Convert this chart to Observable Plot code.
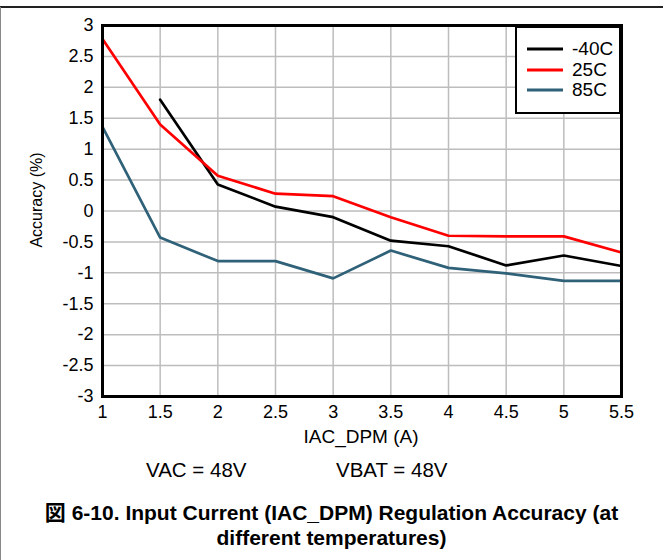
<!DOCTYPE html>
<html>
<head>
<meta charset="utf-8">
<script src="https://cdn.jsdelivr.net/npm/d3@7"></script>
<script src="https://cdn.jsdelivr.net/npm/@observablehq/plot@0.6"></script>
<style>
  body { margin: 0; background: #fff; font-family: "Liberation Sans", Arial, "Noto Sans CJK JP", sans-serif; }
  #wrap { position: relative; width: 663px; height: 560px; background: #fff; overflow: hidden; }
  .abs { position: absolute; white-space: nowrap; color: #000; }
</style>
</head>
<body>
<div id="wrap"></div>
<script>
// ---- data ----
const currents = [1, 1.5, 2, 2.5, 3, 3.5, 4, 4.5, 5, 5.5];
const seriesNames = ["-40C", "25C", "85C"];
const seriesColors = ["#000000", "#ff0000", "#2f6178"];
const accM40 = [null, 1.80, 0.43, 0.07, -0.10, -0.48, -0.57, -0.88, -0.72, -0.89];
const acc25  = [2.78, 1.40, 0.57, 0.28, 0.24, -0.10, -0.40, -0.41, -0.41, -0.67];
const acc85  = [1.36, -0.43, -0.81, -0.81, -1.09, -0.64, -0.92, -1.01, -1.13, -1.13];
const xTicks = [1, 1.5, 2, 2.5, 3, 3.5, 4, 4.5, 5, 5.5];
const yTicks = [-3, -2.5, -2, -1.5, -1, -0.5, 0, 0.5, 1, 1.5, 2, 2.5, 3];
const xLabel = "IAC_DPM (A)";
const yLabel = "Accuracy (%)";
const conditions = ["VAC = 48V", "VBAT = 48V"];
const captionLines = ["図 6-10. Input Current (IAC_DPM) Regulation Accuracy (at", "different temperatures)"];

(function () {
const seriesValues = [accM40, acc25, acc85];
const rows = [];
seriesNames.forEach((name, s) => {
  currents.forEach((c, i) => {
    const v = seriesValues[s][i];
    if (v !== null) rows.push({series: name, x: c, y: v});
  });
});

const wrap = document.getElementById("wrap");

// page borders
const topLine = document.createElement("div");
topLine.style.cssText = "position:absolute;left:0;top:6px;width:663px;height:2px;background:#222;";
wrap.appendChild(topLine);
const leftLine = document.createElement("div");
leftLine.style.cssText = "position:absolute;left:0;top:7px;width:1px;height:553px;background:#888;";
wrap.appendChild(leftLine);

const chart = Plot.plot({
  width: 663,
  height: 450,
  marginTop: 25,
  marginLeft: 102,
  marginRight: 42,
  marginBottom: 54,
  style: {fontSize: "18px", fontFamily: "'Liberation Sans', Arial, sans-serif", background: "transparent", color: "#000"},
  x: {domain: [1, 5.5], ticks: xTicks, label: null},
  y: {domain: [-3, 3], ticks: yTicks, label: null},
  color: {domain: seriesNames, range: seriesColors},
  marks: [
    Plot.gridX(xTicks, {stroke: "#bdbdbd", strokeOpacity: 1, strokeWidth: 1.5}),
    Plot.gridY(yTicks, {stroke: "#bdbdbd", strokeOpacity: 1, strokeWidth: 1.5}),
    Plot.line(rows, {x: "x", y: "y", z: "series", stroke: "series", strokeWidth: 2.7, strokeLinejoin: "miter"}),
    Plot.axisX(xTicks, {tickSize: 0, tickPadding: 9, tickFormat: d => String(d), fontSize: 18, label: null}),
    Plot.axisY(yTicks, {tickSize: 0, tickPadding: 9, tickFormat: d => String(d), fontSize: 18, label: null}),
    Plot.frame({stroke: "#000", strokeWidth: 3})
  ]
});
chart.style.position = "absolute";
chart.style.left = "0px";
chart.style.top = "0px";
wrap.appendChild(chart);

function addText(txt, css) {
  const d = document.createElement("div");
  d.className = "abs";
  d.textContent = txt;
  d.style.cssText += css;
  wrap.appendChild(d);
  return d;
}

// axis labels
addText(xLabel, "left:261px;width:200px;text-align:center;top:426px;font-size:19px;line-height:22px;");
addText(yLabel, "left:-63px;width:200px;text-align:center;top:190px;font-size:16px;line-height:20px;transform:rotate(-90deg);");

// conditions
addText(conditions[0], "left:146px;top:458px;font-size:20.5px;line-height:24px;");
addText(conditions[1], "left:336px;top:458px;font-size:20.5px;line-height:24px;");

// caption
captionLines.forEach((line, i) => {
  addText(line, `left:0;width:663px;text-align:center;top:${500 + i * 25}px;font-size:21px;font-weight:bold;line-height:26px;font-family:'Liberation Sans',Arial,'Noto Sans CJK JP',sans-serif;`);
});

// legend
const leg = document.createElement("div");
leg.style.cssText = "position:absolute;left:515px;top:26px;width:102px;height:84px;border:2px solid #000;background:#fff;";
wrap.appendChild(leg);
seriesNames.forEach((name, i) => {
  const row = document.createElement("div");
  row.style.cssText = `position:absolute;left:10px;top:${11 + i * 20.7}px;height:20px;display:flex;align-items:center;`;
  const sw = document.createElementNS("http://www.w3.org/2000/svg", "svg");
  sw.setAttribute("width", "36");
  sw.setAttribute("height", "20");
  const ln = document.createElementNS("http://www.w3.org/2000/svg", "line");
  ln.setAttribute("x1", "0"); ln.setAttribute("x2", "36");
  ln.setAttribute("y1", "10"); ln.setAttribute("y2", "10");
  ln.setAttribute("stroke", seriesColors[i]);
  ln.setAttribute("stroke-width", "3");
  sw.appendChild(ln);
  row.appendChild(sw);
  const t = document.createElement("span");
  t.textContent = name;
  t.style.cssText = "margin-left:9px;font-size:19px;line-height:20px;";
  row.appendChild(t);
  leg.appendChild(row);
});
})();
</script>
</body>
</html>
